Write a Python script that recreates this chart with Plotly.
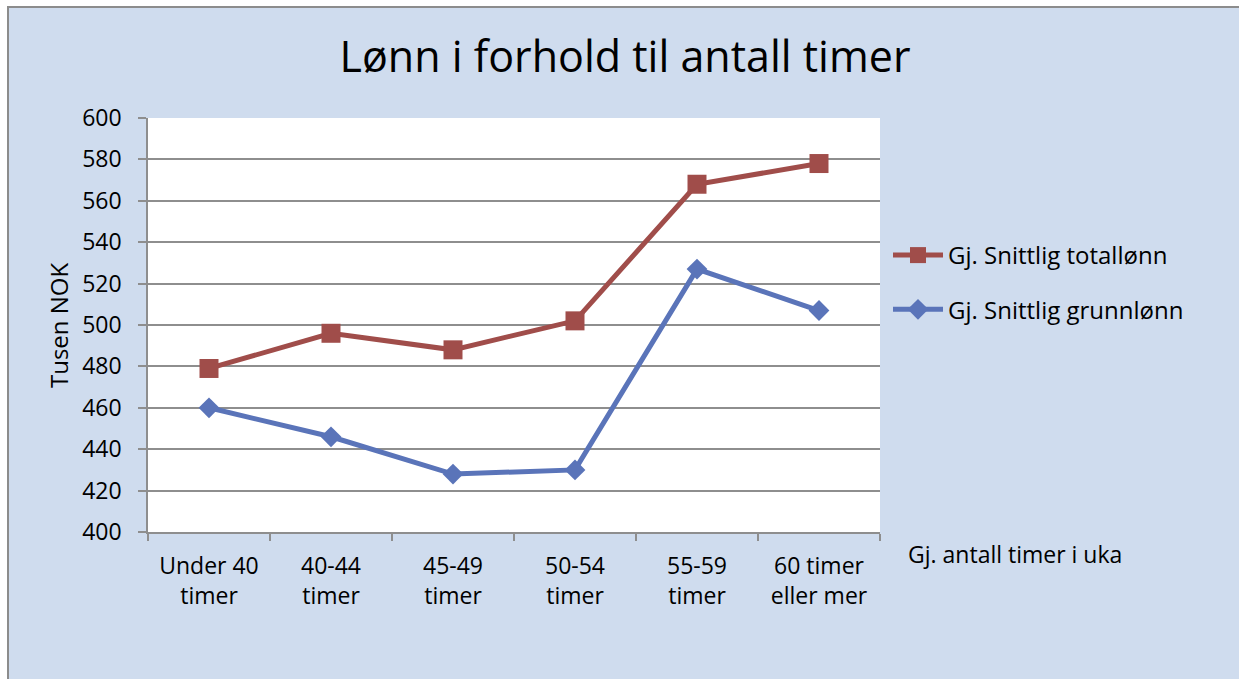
import plotly.graph_objects as go

categories = ["Under 40<br>timer", "40-44<br>timer", "45-49<br>timer", "50-54<br>timer", "55-59<br>timer", "60 timer<br>eller mer"]
totallonn = [479, 496, 488, 502, 568, 578]
grunnlonn = [460, 446, 428, 430, 527, 507]
y_ticks = [400, 420, 440, 460, 480, 500, 520, 540, 560, 580, 600]

W, H = 1239, 679
L, R, T, B = 148, 880, 118, 532
pw, ph = R - L, B - T

def px(x):
    return (x - L) / pw

def py(y):
    return (B - y) / ph

FONT = "Open Sans"
RED = "#A04D4A"
BLUE = "#5A74B9"
BG = "#CFDCEE"
GRID = "#8E8E8E"

fig = go.Figure()
fig.add_trace(go.Scatter(
    x=categories, y=totallonn, name="Gj. Snittlig totallønn", mode="lines+markers",
    line=dict(color=RED, width=5), marker=dict(symbol="square", size=19, color=RED),
    legendgroup="a"))
fig.add_trace(go.Scatter(
    x=categories, y=grunnlonn, name="Gj. Snittlig grunnlønn", mode="lines+markers",
    line=dict(color=BLUE, width=5), marker=dict(symbol="diamond", size=16, color=BLUE),
    legendgroup="b"))

fig.update_layout(
    width=W, height=H,
    margin=dict(l=L, r=W - R, t=T, b=H - B),
    paper_bgcolor=BG, plot_bgcolor="white",
    font=dict(family=FONT, size=23, color="black"),
    title=dict(text="Lønn i forhold til antall timer", x=625 / W, xanchor="center",
               y=1 - 57 / H, yanchor="middle", font=dict(family=FONT, size=43, color="black")),
    showlegend=True,
    legend=dict(x=px(888), xanchor="left", y=py(233), yanchor="top",
                bgcolor="rgba(0,0,0,0)", font=dict(size=24),
                traceorder="grouped", tracegroupgap=20, itemwidth=50),
    xaxis=dict(type="category", showgrid=False, showline=True, linecolor=GRID, linewidth=1.5,
               ticks="outside", ticklen=7, tickcolor=GRID, tickwidth=1.5, tickson="boundaries",
               tickfont=dict(size=23), ticklabelstandoff=13, range=[-0.5, 5.5]),
    yaxis=dict(range=[400, 600], tickvals=y_ticks, showgrid=True, gridcolor=GRID, gridwidth=1.5,
               showline=True, linecolor=GRID, linewidth=1.5, ticks="outside", ticklen=8,
               tickcolor=GRID, tickwidth=1.5, tickfont=dict(size=23), ticklabelstandoff=12,
               zeroline=False),
)

# outer white strips and border
fig.add_shape(type="rect", xref="paper", yref="paper", x0=px(-20), x1=px(1300), y0=py(7), y1=py(-20),
              fillcolor="white", line=dict(width=0), layer="above")
fig.add_shape(type="rect", xref="paper", yref="paper", x0=px(-20), x1=px(8), y0=py(720), y1=py(-20),
              fillcolor="white", line=dict(width=0), layer="above")
fig.add_shape(type="rect", xref="paper", yref="paper", x0=px(8), x1=px(1300), y0=py(720), y1=py(7),
              line=dict(color="#8C8C8C", width=2), layer="above")

fig.add_annotation(text="Tusen NOK", xref="paper", yref="paper", x=px(58), y=py(325),
                   textangle=-90, showarrow=False, xanchor="center", yanchor="middle",
                   font=dict(size=24))
fig.add_annotation(text="Gj. antall timer i uka", xref="paper", yref="paper", x=px(906), y=py(554),
                   showarrow=False, xanchor="left", yanchor="middle", font=dict(size=23))

fig.write_html("out.html", config={"displayModeBar": False},
               post_script="document.body.style.margin='0';document.body.style.overflow='hidden';")
